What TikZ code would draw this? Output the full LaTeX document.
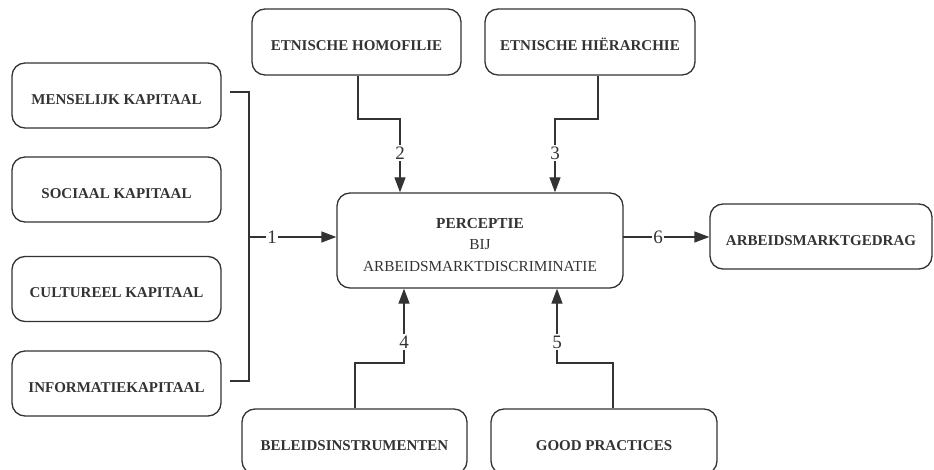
\documentclass[tikz,border=0pt]{standalone}
\usepackage{fontspec}
\setmainfont{Liberation Serif}
\usetikzlibrary{arrows.meta,calc}
\definecolor{ink}{HTML}{333333}
\begin{document}
\begin{tikzpicture}[x=1pt,y=-1pt,
  box/.style={draw=ink, line width=1.3pt, rounded corners=13pt, inner sep=0pt,
    minimum height=65pt, text=ink, font=\fontsize{15}{18}\selectfont\bfseries, align=center},
  onebox/.style={box, text height=17.5pt, text depth=0pt},
  conn/.style={draw=ink, line width=1.3pt},
  arr/.style={conn, -{Triangle[length=15pt,width=11pt]}},
  num/.style={fill=white, inner sep=1.5pt, text=ink, font=\fontsize{19}{19}\selectfont}
]
\useasboundingbox (0,0) rectangle (934,470);

% left boxes
\node[onebox, minimum width=209pt] (men) at (116.5,95.5) {MENSELIJK KAPITAAL};
\node[onebox, minimum width=209pt] (soc) at (116.5,189.5) {SOCIAAL KAPITAAL};
\node[onebox, minimum width=209pt] (cul) at (116.5,289) {CULTUREEL KAPITAAL};
\node[onebox, minimum width=209pt] (inf) at (116.5,383.5) {INFORMATIEKAPITAAL};

% top boxes
\node[onebox, minimum width=209pt, minimum height=66pt] (homo) at (356.5,42) {ETNISCHE HOMOFILIE};
\node[onebox, minimum width=210pt, minimum height=66pt] (hier) at (590,42) {ETNISCHE HIËRARCHIE};

% central box
\node[box, minimum width=286pt, minimum height=95pt, font=\fontsize{15.3}{21.5}\selectfont] (perc) at (480,240.5)
  {\rule{0pt}{18.5pt}\textbf{PERCEPTIE}\\BIJ\\ARBEIDSMARKTDISCRIMINATIE};

% right box
\node[onebox, minimum width=222pt] (arb) at (821,236.5) {ARBEIDSMARKTGEDRAG};

% bottom boxes
\node[onebox, minimum width=225pt] (bel) at (354.5,441.5) {BELEIDSINSTRUMENTEN};
\node[onebox, minimum width=226pt] (good) at (604,441.5) {GOOD PRACTICES};

% bracket and arrow 1
\coordinate (bt) at (249,92);
\coordinate (bb) at (249,381);
\coordinate (bm) at (249,237);
\draw[conn] (bt -| 230,0) -- (bt) -- (bb) -- (bb -| 230,0);
\draw[arr] (bm) -- (bm -| perc.west);
\node[num] (n1) at (272,237) {1};

% arrow 6
\coordinate (a6) at (623,237);
\draw[arr] (a6) -- (a6 -| arb.west);
\node[num] (n6) at (658,237) {6};

% arrow 2
\coordinate (c2) at (400,119);
\draw[arr] ([xshift=1.5pt]homo.south) |- (c2) -- (c2 |- perc.north);
\node[num] (n2) at (400,153) {2};

% arrow 3
\coordinate (c3) at (555,119);
\draw[arr] ([xshift=8pt]hier.south) |- (c3) -- (c3 |- perc.north);
\node[num] (n3) at (555,153) {3};

% arrow 4
\coordinate (c4) at (404,363);
\draw[arr] ([xshift=0.5pt]bel.north) |- (c4) -- (c4 |- perc.south);
\node[num] (n4) at (404,342) {4};

% arrow 5
\coordinate (c5) at (557,363);
\draw[arr] ([xshift=9pt]good.north) |- (c5) -- (c5 |- perc.south);
\node[num] (n5) at (557,342) {5};
\end{tikzpicture}
\end{document}
